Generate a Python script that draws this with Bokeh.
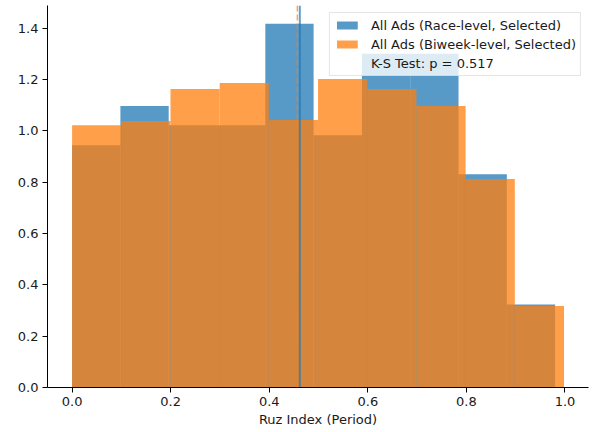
from bokeh.plotting import figure
from bokeh.models import Span, Legend, LegendItem, FixedTicker, NumeralTickFormatter, Range1d, ColumnDataSource
from bokeh.embed import file_html
from bokeh.resources import INLINE

# Race-level histogram (density), 10 bins from 0 to 0.98
race_edges = [0.0, 0.098, 0.196, 0.294, 0.392, 0.49, 0.588, 0.686, 0.784, 0.882, 0.98]
race_density = [0.944, 1.097, 1.022, 1.022, 1.417, 0.983, 1.30, 1.30, 0.831, 0.323]

# Biweek-level histogram (density), 10 bins from 0 to 0.998
biweek_edges = [0.0, 0.0998, 0.1996, 0.2994, 0.3992, 0.499, 0.5988, 0.6986, 0.7984, 0.8982, 0.998]
biweek_density = [1.022, 1.038, 1.163, 1.186, 1.042, 1.202, 1.163, 1.097, 0.812, 0.317]

race_mean = 0.462
biweek_mean = 0.457
ks_label = "K-S Test: p = 0.517"

x_ticks = [0.0, 0.2, 0.4, 0.6, 0.8, 1.0]
y_ticks = [0.0, 0.2, 0.4, 0.6, 0.8, 1.0, 1.2, 1.4]

BLUE = "#1f77b4"
ORANGE = "#ff7f0e"
FONT = "DejaVu Sans"
FS = "13px"

p = figure(width=594, height=432, output_backend="svg", toolbar_location=None,
           x_range=Range1d(-0.0499, 1.0477), y_range=Range1d(0, 1.488),
           min_border_left=47, min_border_right=6, min_border_top=5, min_border_bottom=45)

race_src = ColumnDataSource(dict(left=race_edges[:-1], right=race_edges[1:],
                                 top=race_density, bottom=[0] * len(race_density)))
bi_src = ColumnDataSource(dict(left=biweek_edges[:-1], right=biweek_edges[1:],
                               top=biweek_density, bottom=[0] * len(biweek_density)))

r1 = p.quad(left="left", right="right", top="top", bottom="bottom", source=race_src,
            fill_color=BLUE, fill_alpha=0.75, line_color=None)
r2 = p.quad(left="left", right="right", top="top", bottom="bottom", source=bi_src,
            fill_color=ORANGE, fill_alpha=0.75, line_color=None)
r3 = p.quad(left=[], right=[], top=[], bottom=[], fill_alpha=0, line_alpha=0)

p.add_layout(Span(location=biweek_mean, dimension="height", line_color=ORANGE,
                  line_alpha=0.7, line_width=1.5, line_dash="6 3"))
p.add_layout(Span(location=race_mean, dimension="height", line_color=BLUE,
                  line_alpha=0.7, line_width=2))

legend = Legend(items=[
    LegendItem(label="All Ads (Race-level, Selected)", renderers=[r1]),
    LegendItem(label="All Ads (Biweek-level, Selected)", renderers=[r2]),
    LegendItem(label=ks_label, renderers=[r3]),
], location="top_right")
legend.label_text_font = FONT
legend.label_text_font_size = "13px"
legend.label_text_color = "#1a1a1a"
legend.glyph_width = 26
legend.glyph_height = 10
legend.label_height = 16
legend.spacing = 3
legend.label_standoff = 11
legend.padding = 4
legend.margin = 7
legend.border_line_color = "#cccccc"
legend.border_line_width = 1
legend.background_fill_alpha = 0.8
p.add_layout(legend)

p.outline_line_color = None
p.grid.visible = False

for ax in (p.xaxis, p.yaxis):
    ax.axis_line_color = "black"
    ax.axis_line_width = 1
    ax.major_tick_line_color = "black"
    ax.major_tick_out = 5
    ax.major_tick_in = 0
    ax.minor_tick_line_color = None
    ax.major_label_text_font = FONT
    ax.major_label_text_font_size = FS
    ax.major_label_text_color = "#1a1a1a"
    ax.major_label_standoff = 4
    ax.formatter = NumeralTickFormatter(format="0.0")

p.xaxis.ticker = FixedTicker(ticks=x_ticks)
p.yaxis.ticker = FixedTicker(ticks=y_ticks)
p.xaxis.axis_label = "Ruz Index (Period)"
p.xaxis.axis_label_text_font = FONT
p.xaxis.axis_label_text_font_size = FS
p.xaxis.axis_label_text_font_style = "normal"
p.xaxis.axis_label_text_color = "#1a1a1a"
p.xaxis.axis_label_standoff = 3

open("out.html", "w").write(file_html(p, INLINE))
